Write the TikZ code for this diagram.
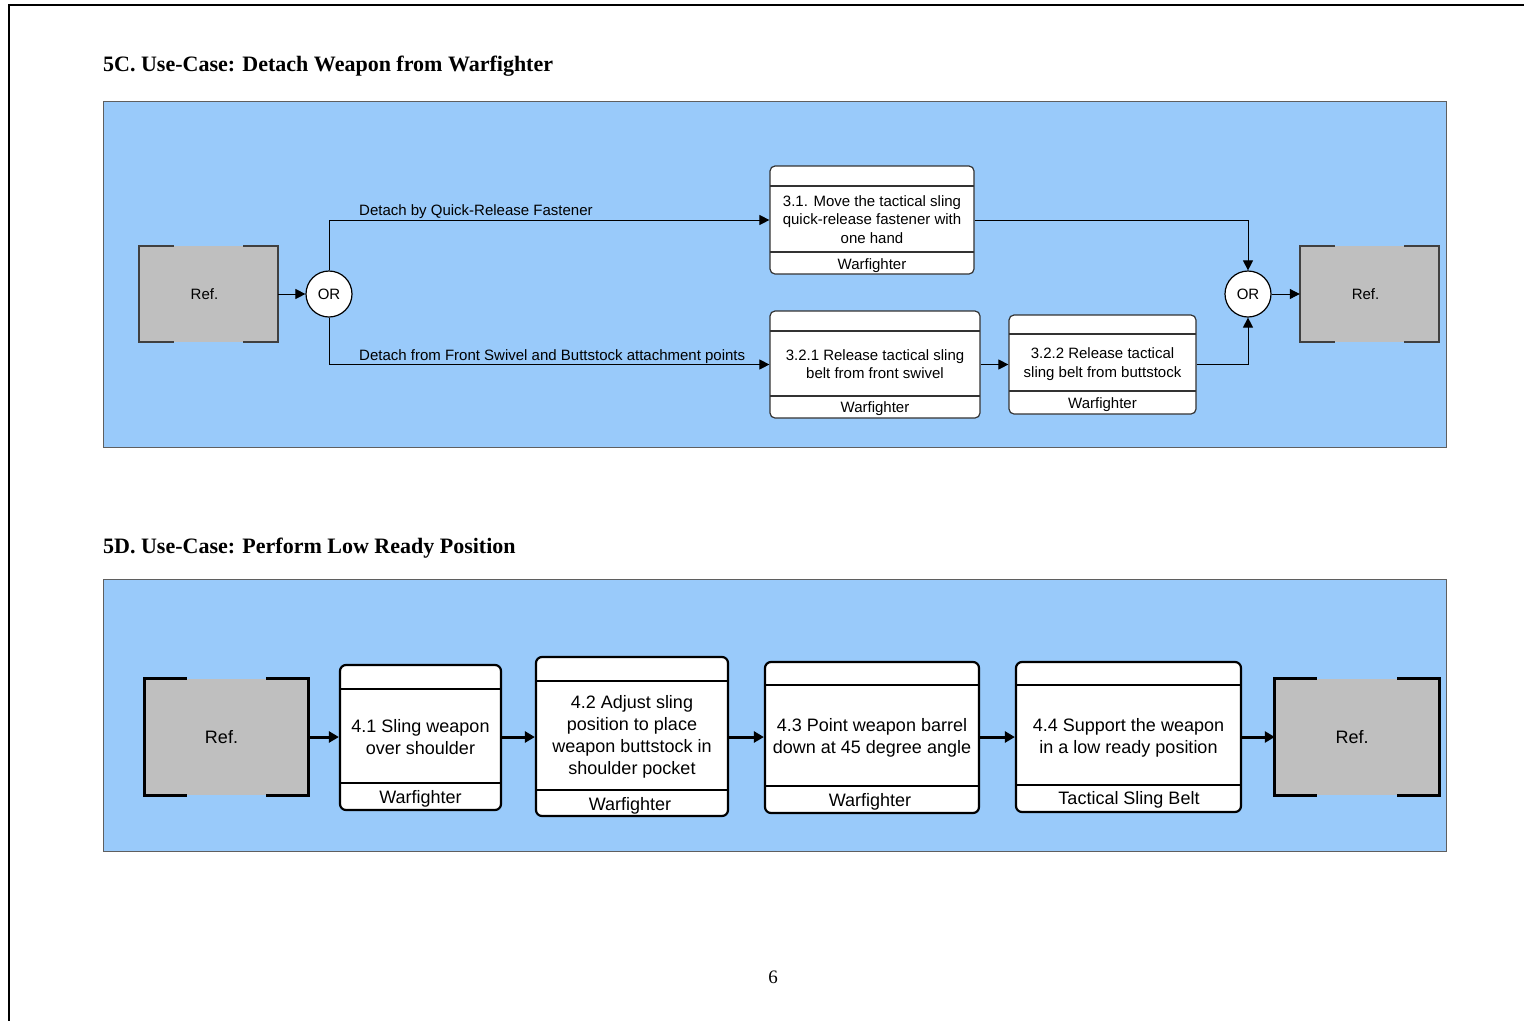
\documentclass[tikz,border=0pt]{standalone}
\usepackage{fontspec}
\setmainfont{Liberation Sans}
\newfontfamily\titleserif{Liberation Serif}
\usetikzlibrary{arrows.meta}

\definecolor{panelblue}{RGB}{153,202,250}
\definecolor{refgray}{RGB}{191,191,191}
\definecolor{edgegray}{RGB}{95,95,95}

\tikzset{
  x=1pt, y=-1pt,
  smallfont/.style={font=\fontsize{15}{18.5}\selectfont},
  bigfont/.style={font=\fontsize{18}{22}\selectfont},
  headtitle/.style={font=\titleserif\bfseries\fontsize{22}{26}\selectfont, anchor=base west, inner sep=0pt},
  panel/.style={draw=edgegray, line width=1pt, fill=panelblue},
  refbox/.style={fill=refgray, inner sep=0pt},
  refedgeA/.style={draw=black!75, line width=1.5pt},
  refedgeB/.style={draw=black, line width=3pt},
  orgate/.style={circle, draw=black, fill=white, line width=1.2pt, minimum size=46pt, inner sep=0pt, smallfont},
  actboxA/.style={draw=black!80, fill=white, rounded corners=5pt, line width=1.2pt, inner sep=0pt},
  actboxB/.style={draw=black, fill=white, rounded corners=6pt, line width=2.2pt, inner sep=0pt},
  sepA/.style={draw=black!80, line width=1.2pt},
  sepB/.style={draw=black, line width=2.6pt},
  flowA/.style={line width=1pt, -{Triangle[length=10pt,width=10pt]}},
  flowB/.style={line width=3pt, -{Triangle[length=10pt,width=11pt]}},
}

\begin{document}
\begin{tikzpicture}
\path[use as bounding box] (0,0) rectangle (1524,1021);
\fill[white] (0,0) rectangle (1524,1021);

% page frame
\draw[line width=2.5pt] (1524,5) -- (9,5) -- (9,1021);

% ---------- 5C ----------
\node[headtitle] (title5c) at (103,71) {5C. Use-Case: Detach Weapon from Warfighter};
\draw[panel] (103,101) rectangle (1446,447);

% reference blocks
\node[refbox, minimum width=139pt, minimum height=96pt] (refL) at (208.5,294) {};
\node[refbox, minimum width=139pt, minimum height=96pt] (refR) at (1369.5,294) {};
\node[smallfont] (refLtext) at ([xshift=-4pt]refL.center) {Ref.};
\node[smallfont] (refRtext) at ([xshift=-4pt]refR.center) {Ref.};
\foreach \r in {refL,refR}{
  \draw[refedgeA] ([xshift=35pt]\r.north west) -- (\r.north west) -- (\r.south west) -- ([xshift=35pt]\r.south west);
  \draw[refedgeA] ([xshift=-35pt]\r.north east) -- (\r.north east) -- (\r.south east) -- ([xshift=-35pt]\r.south east);
}

% OR junctions
\node[orgate] (orL) at (329,294) {OR};
\node[orgate] (orR) at (1248,294) {OR};

% activity 3.1
\node[actboxA, minimum width=204pt, minimum height=108pt] (b31) at (872,220) {};
\draw[sepA] (770,186) -- (974,186);
\draw[sepA] (770,252) -- (974,252);
\node[smallfont, align=center] (t31) at (872,219.5) {3.1. Move the tactical sling\\quick-release fastener with\\one hand};
\node[smallfont] (r31) at (872,265.5) {Warfighter};

% activity 3.2.1
\node[actboxA, minimum width=210pt, minimum height=107pt] (b321) at (875,364.5) {};
\draw[sepA] (770,331) -- (980,331);
\draw[sepA] (770,396) -- (980,396);
\node[smallfont, align=center] (t321) at (875,364) {3.2.1 Release tactical sling\\belt from front swivel};
\node[smallfont] (r321) at (875,409) {Warfighter};

% activity 3.2.2
\node[actboxA, minimum width=187pt, minimum height=99pt] (b322) at (1102.5,364.5) {};
\draw[sepA] (1009,334) -- (1196,334);
\draw[sepA] (1009,391) -- (1196,391);
\node[smallfont, align=center] (t322) at (1102.5,364) {3.2.2 Release tactical\\sling belt from buttstock};
\node[smallfont] (r322) at (1102.5,405) {Warfighter};

% flows 5C
\draw[flowA] (refL.east) -- (orL.west);
\draw[flowA] (orL.north) |- (b31.west);
\draw[flowA] (orL.south) |- (b321.west);
\draw[flowA] (b321.east) -- (b322.west);
\draw[flowA] (b31.east) -| (orR.north);
\draw[flowA] (b322.east) -| (orR.south);
\draw[flowA] (orR.east) -- (refR.west);
\node[smallfont, anchor=west, inner sep=0pt] (lblq) at (359,212) {Detach by Quick-Release Fastener};
\node[smallfont, anchor=west, inner sep=0pt] (lblf) at (359,357) {Detach from Front Swivel and Buttstock attachment points};

% ---------- 5D ----------
\node[headtitle] (title5d) at (103,553) {5D. Use-Case: Perform Low Ready Position};
\draw[panel] (103,579) rectangle (1446,851);

\node[refbox, minimum width=163pt, minimum height=116pt] (refL2) at (226.5,737) {};
\node[refbox, minimum width=164pt, minimum height=116pt] (refR2) at (1357,737) {};
\node[bigfont] (refL2text) at ([xshift=-5pt]refL2.center) {Ref.};
\node[bigfont] (refR2text) at ([xshift=-5pt]refR2.center) {Ref.};
\foreach \r in {refL2,refR2}{
  \draw[refedgeB] ([xshift=42pt]\r.north west) -- (\r.north west) -- (\r.south west) -- ([xshift=42pt]\r.south west);
  \draw[refedgeB] ([xshift=-42pt]\r.north east) -- (\r.north east) -- (\r.south east) -- ([xshift=-42pt]\r.south east);
}

% activity 4.1
\node[actboxB, minimum width=161pt, minimum height=145pt] (b41) at (420.5,737.5) {};
\draw[sepB] (340,689) -- (502,689);
\draw[sepB] (340,783) -- (502,783);
\node[bigfont, align=center] (t41) at (420.5,737) {4.1 Sling weapon\\over shoulder};
\node[bigfont] (r41) at (420.5,799) {Warfighter};

% activity 4.2
\node[actboxB, minimum width=192pt, minimum height=159pt] (b42) at (632,736.5) {};
\draw[sepB] (536,681) -- (729,681);
\draw[sepB] (536,790) -- (729,790);
\node[bigfont, align=center] (t42) at (632,737) {4.2 Adjust sling\\position to place\\weapon buttstock in\\shoulder pocket};
\node[bigfont] (r42) at (630,805.5) {Warfighter};

% activity 4.3
\node[actboxB, minimum width=214pt, minimum height=151pt] (b43) at (872,737.5) {};
\draw[sepB] (765,685) -- (980,685);
\draw[sepB] (765,786) -- (980,786);
\node[bigfont, align=center] (t43) at (872,737.5) {4.3 Point weapon barrel\\down at 45 degree angle};
\node[bigfont] (r43) at (870,802) {Warfighter};

% activity 4.4
\node[actboxB, minimum width=225pt, minimum height=150pt] (b44) at (1128.5,737) {};
\draw[sepB] (1016,685) -- (1242,685);
\draw[sepB] (1016,785) -- (1242,785);
\node[bigfont, align=center] (t44) at (1128.5,737.5) {4.4 Support the weapon\\in a low ready position};
\node[bigfont] (r44) at (1129,800) {Tactical Sling Belt};

% flows 5D
\draw[flowB] (refL2.east) -- (b41.west |- refL2.east);
\draw[flowB] (b41.east |- refL2.east) -- (b42.west |- refL2.east);
\draw[flowB] (b42.east |- refL2.east) -- (b43.west |- refL2.east);
\draw[flowB] (b43.east |- refL2.east) -- (b44.west |- refL2.east);
\draw[flowB] (b44.east |- refL2.east) -- (refR2.west);

% page number
\node[font=\titleserif\fontsize{19}{22}\selectfont] (pageno) at (773,977) {6};
\end{tikzpicture}
\end{document}
